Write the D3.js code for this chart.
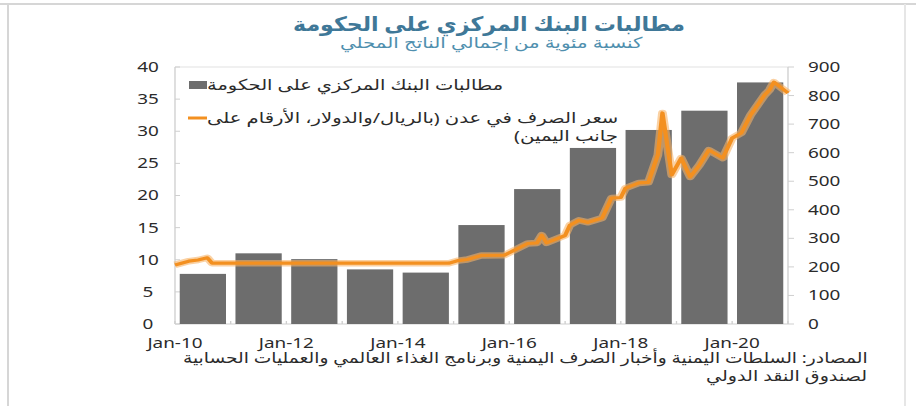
<!DOCTYPE html>
<html>
<head>
<meta charset="utf-8">
<script src="https://cdn.jsdelivr.net/npm/d3@7"></script>
<style>
  html, body { margin: 0; padding: 0; background: #fff; }
  svg { display: block; }
</style>
</head>
<body>
<div id="chart"></div>
<script>
// Central bank claims on government, % of GDP (bars, left axis)
const years = ['2010', '2011', '2012', '2013', '2014', '2015', '2016', '2017', '2018', '2019', '2020'];
const claimsPctGdp = [7.8, 11.0, 10.1, 8.5, 8.0, 15.4, 21.0, 27.4, 30.2, 33.2, 37.6];

// Aden exchange rate, rial per dollar (line, right axis)
const fxDates = [
  '2010-01', '2010-04', '2010-06', '2010-08', '2010-09', '2014-12', '2015-02', '2015-04',
  '2015-07', '2015-12', '2016-02', '2016-05', '2016-07', '2016-08', '2016-09', '2017-01',
  '2017-02', '2017-04', '2017-06', '2017-09', '2017-11', '2018-01', '2018-02', '2018-05',
  '2018-07', '2018-09', '2018-10', '2018-12', '2019-02', '2019-04', '2019-06', '2019-08',
  '2019-11', '2020-01', '2020-03', '2020-05', '2020-08', '2020-09', '2020-10', '2021-01',
];
const fxValues = [
  207, 220, 224, 232, 213, 213, 222, 226,
  240, 241, 258, 282, 284, 311, 284, 310,
  346, 363, 356, 371, 441, 443, 476, 494,
  496, 592, 739, 522, 581, 515, 557, 609,
  581, 651, 669, 732, 802, 819, 847, 809,
];

const leftTicks = [0, 5, 10, 15, 20, 25, 30, 35, 40];
const rightTicks = [0, 100, 200, 300, 400, 500, 600, 700, 800, 900];
const xTickYears = ['2010', '2012', '2014', '2016', '2018', '2020'];
const xTickLabels = ['Jan-10', 'Jan-12', 'Jan-14', 'Jan-16', 'Jan-18', 'Jan-20'];

const title = 'مطالبات البنك المركزي على الحكومة';
const subtitle = 'كنسبة مئوية من إجمالي الناتج المحلي';
const legendBars = 'مطالبات البنك المركزي على الحكومة';
const legendLine1 = 'سعر الصرف في عدن (بالريال/والدولار، الأرقام على';
const legendLine2 = 'جانب اليمين)';
const source1 = 'المصادر: السلطات اليمنية وأخبار الصرف اليمنية وبرنامج الغذاء العالمي والعمليات الحسابية';
const source2 = 'لصندوق النقد الدولي';

// The reference is stretched horizontally; draw in a narrower viewBox and stretch it
const W = 916, H = 406, SX = 1.35;
const sx = (px) => px / SX;
const FONT = '"Noto Sans", "DejaVu Sans", sans-serif';

const svg = d3.select('#chart').append('svg')
  .attr('width', W).attr('height', H)
  .attr('viewBox', `0 0 ${W / SX} ${H}`)
  .attr('preserveAspectRatio', 'none');

const plot = { left: 175, right: 788, top: 67, bottom: 324 };
const parseMonth = d3.timeParse('%Y-%m');

const xBand = d3.scaleBand().domain(years)
  .range([sx(plot.left), sx(plot.right)])
  .paddingInner(0.17).paddingOuter(0.085);
const xTime = d3.scaleTime()
  .domain([new Date(2010, 0, 1), new Date(2021, 0, 1)])
  .range([sx(plot.left), sx(plot.right)]);
const yLeft = d3.scaleLinear().domain([0, 40]).range([plot.bottom, plot.top]);
const yRight = d3.scaleLinear().domain([0, 900]).range([plot.bottom, plot.top]);

// Arabic text fitted between a left and right edge (real pixels)
function arabicText(x0, x1, y, size, color, str, weight) {
  const g = svg.append('g');
  const t = g.append('text')
    .attr('x', 0).attr('y', 0)
    .attr('direction', 'rtl').attr('text-anchor', 'end')
    .attr('font-family', FONT).attr('font-size', size)
    .attr('font-weight', weight || 'normal')
    .attr('fill', color)
    .text(str);
  const bb = t.node().getBBox();
  const k = (sx(x1) - sx(x0)) / bb.width;
  g.attr('transform', `translate(${sx(x0) - bb.x * k},${y}) scale(${k},1)`);
  return g;
}

// outer frame
const frame = '#d6d6d6';
svg.append('line').attr('x1', 0).attr('x2', sx(W)).attr('y1', 4).attr('y2', 4)
  .attr('stroke', frame).attr('stroke-width', 2);
svg.append('line').attr('x1', sx(8)).attr('x2', sx(8)).attr('y1', 4).attr('y2', H)
  .attr('stroke', frame).attr('stroke-width', 1.5);
svg.append('line').attr('x1', sx(905)).attr('x2', sx(905)).attr('y1', 4).attr('y2', H)
  .attr('stroke', '#e6e6e6').attr('stroke-width', 1.5);

// titles
arabicText(293, 685, 31, 20, '#3f7898', title, 'bold');
arabicText(340, 643, 48, 15, '#4f8fae', subtitle);

// plot border / axes
const axisColor = '#cfcfcf';
svg.append('line').attr('x1', sx(plot.left)).attr('x2', sx(plot.right))
  .attr('y1', plot.top).attr('y2', plot.top).attr('stroke', '#e2e2e2');
svg.append('line').attr('x1', sx(plot.left)).attr('x2', sx(plot.left))
  .attr('y1', plot.top).attr('y2', plot.bottom).attr('stroke', axisColor);
svg.append('line').attr('x1', sx(plot.right)).attr('x2', sx(plot.right))
  .attr('y1', plot.top).attr('y2', plot.bottom).attr('stroke', axisColor);
svg.append('line').attr('x1', sx(plot.left)).attr('x2', sx(plot.right))
  .attr('y1', plot.bottom).attr('y2', plot.bottom).attr('stroke', axisColor);

// left ticks (inward) and labels
svg.selectAll('.ltick').data(leftTicks).enter().append('line')
  .attr('x1', sx(plot.left)).attr('x2', sx(plot.left + 5))
  .attr('y1', (d) => yLeft(d)).attr('y2', (d) => yLeft(d))
  .attr('stroke', axisColor);
svg.selectAll('.llabel').data(leftTicks).enter().append('text')
  .attr('x', sx(148)).attr('y', (d) => yLeft(d) + 5)
  .attr('text-anchor', 'middle')
  .attr('font-family', FONT).attr('font-size', 14).attr('fill', '#2b2b2b')
  .text((d) => d);

// right ticks (outward) and labels
svg.selectAll('.rtick').data(rightTicks).enter().append('line')
  .attr('x1', sx(plot.right)).attr('x2', sx(plot.right + 6))
  .attr('y1', (d) => yRight(d)).attr('y2', (d) => yRight(d))
  .attr('stroke', axisColor);
svg.selectAll('.rlabel').data(rightTicks).enter().append('text')
  .attr('x', sx(808)).attr('y', (d) => yRight(d) + 5)
  .attr('text-anchor', 'start')
  .attr('font-family', FONT).attr('font-size', 14).attr('fill', '#2b2b2b')
  .text((d) => d);

// bars
svg.selectAll('.bar').data(years).enter().append('rect')
  .attr('x', (d) => xBand(d))
  .attr('width', xBand.bandwidth())
  .attr('y', (d, i) => yLeft(claimsPctGdp[i]))
  .attr('height', (d, i) => plot.bottom - yLeft(claimsPctGdp[i]))
  .attr('fill', '#6d6d6d');

// bottom ticks and labels
svg.selectAll('.xtick').data(years.concat(['2021'])).enter().append('line')
  .attr('x1', (d) => xTime(new Date(+d, 0, 1))).attr('x2', (d) => xTime(new Date(+d, 0, 1)))
  .attr('y1', plot.bottom).attr('y2', plot.bottom - 3)
  .attr('stroke', axisColor);
svg.selectAll('.xlabel').data(xTickYears).enter().append('text')
  .attr('x', (d) => xTime(new Date(+d, 0, 1)))
  .attr('y', 348)
  .attr('text-anchor', 'middle')
  .attr('font-family', FONT).attr('font-size', 14).attr('fill', '#2b2b2b')
  .text((d, i) => xTickLabels[i]);

// exchange-rate line with a soft glow
const fxRows = fxDates.map((d, i) => ({ date: parseMonth(d), value: fxValues[i] }));
const line = d3.line().x((d) => xTime(d.date)).y((d) => yRight(d.value));
svg.append('path').datum(fxRows).attr('d', line)
  .attr('fill', 'none').attr('stroke', '#f7b366').attr('stroke-width', 6.5)
  .attr('stroke-opacity', 0.6).attr('stroke-linejoin', 'round');
svg.append('path').datum(fxRows).attr('d', line)
  .attr('fill', 'none').attr('stroke', '#f39020').attr('stroke-width', 3.2)
  .attr('stroke-linejoin', 'round');

// legend
svg.append('rect').attr('x', sx(189)).attr('y', 81).attr('width', sx(207) - sx(189)).attr('height', 8)
  .attr('fill', '#6d6d6d');
svg.append('line').attr('x1', sx(188)).attr('x2', sx(207)).attr('y1', 118).attr('y2', 118)
  .attr('stroke', '#f39020').attr('stroke-width', 3);
arabicText(207, 503, 90, 15, '#2b2b2b', legendBars);
arabicText(207, 618, 123, 15, '#2b2b2b', legendLine1);
arabicText(514, 618, 141, 15, '#2b2b2b', legendLine2);

// sources
arabicText(183, 867, 363, 15, '#2b2b2b', source1);
arabicText(706, 867, 381, 15, '#2b2b2b', source2);
</script>
</body>
</html>
